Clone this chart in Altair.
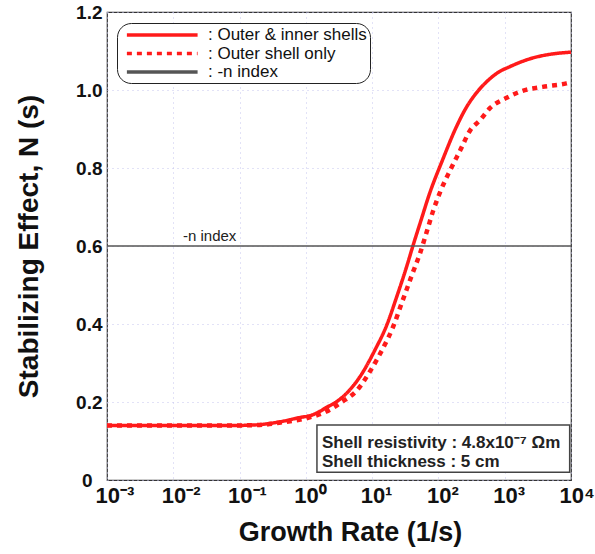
import altair as alt
import pandas as pd

# ---- data ----
series_names = ["Outer & inner shells", "Outer shell only", "-n index"]
series_widths = [3.5, 4.5, 1.5]

solid_rate = [0.001, 0.01, 0.1, 0.2, 0.4, 0.8, 1.26, 2.0, 3.6, 6.5, 11, 16.6, 23.4, 33,
              41.7, 53.7, 74, 115, 186, 263, 372, 525, 794, 1200, 2630, 5010, 10000]
solid_n = [0.140, 0.140, 0.140, 0.142, 0.149, 0.160, 0.167, 0.185, 0.213, 0.264, 0.333,
           0.397, 0.469, 0.546, 0.603, 0.662, 0.736, 0.820, 0.905, 0.955, 0.992, 1.020,
           1.045, 1.060, 1.082, 1.092, 1.097]

dot_rate = [0.001, 0.1, 0.2, 0.4, 1.0, 2.0, 3.5, 5.9, 10.2, 14.8, 20.4, 28.8, 40.7, 52.5,
            67.6, 83.2, 107, 151, 214, 302, 427, 603, 1070, 1860, 3720, 8510, 10000]
dot_n = [0.140, 0.140, 0.141, 0.147, 0.158, 0.175, 0.200, 0.230, 0.290, 0.340, 0.390,
         0.460, 0.530, 0.580, 0.640, 0.690, 0.740, 0.795, 0.846, 0.897, 0.923, 0.954,
         0.980, 0.998, 1.008, 1.017, 1.020]

index_rate = [0.001, 10000]
index_n = [0.6, 0.6]

x_tick_values = [0.001, 0.01, 0.1, 1, 10, 100, 1000, 10000]
x_tick_labels = ["10⁻³", "10⁻²", "10⁻¹", "10⁰", "10¹", "10²", "10³", "10⁴"]
y_tick_values = [0, 0.2, 0.4, 0.6, 0.8, 1.0, 1.2]

index_label = ["-n index"]
index_label_x = [0.014]
index_label_y = [0.613]

box_x = [1.47]
box_x2 = [9550]
box_y = [0.141]
box_y2 = [0.020]
box_lines = ["Shell resistivity : 4.8x10⁻⁷ Ωm", "Shell thickness : 5 cm"]
box_text_x = [1.75, 1.75]
box_text_y = [0.082, 0.033]

FONT = "Liberation Sans"

rows = []
for r, n in zip(solid_rate, solid_n):
    rows.append({"rate": r, "N": n, "series": series_names[0], "sw": series_widths[0]})
for r, n in zip(dot_rate, dot_n):
    rows.append({"rate": r, "N": n, "series": series_names[1], "sw": series_widths[1]})
for r, n in zip(index_rate, index_n):
    rows.append({"rate": r, "N": n, "series": series_names[2], "sw": series_widths[2]})
df = pd.DataFrame(rows)

label_expr = "[" + ",".join("'" + s + "'" for s in x_tick_labels) + "][round(log(datum.value)/LN10)+3]"

xscale = alt.Scale(type="log", domain=[0.001, 10000], nice=False)
yscale = alt.Scale(domain=[0, 1.2], nice=False)

xaxis = alt.Axis(values=x_tick_values, labelExpr=label_expr, title="Growth Rate (1/s)",
                 labelFont=FONT, labelFontSize=22, labelFontWeight="bold", labelColor="#111",
                 labelAlign="left", labelOffset=-12,
                 titleFont=FONT, titleFontSize=27, titleFontWeight="bold", titleColor="#111",
                 titleX=243, labelPadding=5, titlePadding=13, ticks=False, domain=False,
                 grid=True, gridColor="#c4c4ee", gridDash=[1, 4], gridWidth=1,
                 labelFlush=False, labelOverlap=False)
yaxis = alt.Axis(values=y_tick_values, labelExpr="datum.value == 0 ? '0' : format(datum.value, '.1f')",
                 title="Stabilizing Effect, N (s)",
                 labelFont=FONT, labelFontSize=19, labelFontWeight="bold", labelColor="#111",
                 titleFont=FONT, titleFontSize=28, titleFontWeight="bold", titleColor="#111",
                 labelPadding={"condition": {"test": "datum.value == 0", "value": 15}, "value": 5},
                 titlePadding=32, ticks=False, domain=False,
                 grid=True, gridColor="#c4c4ee", gridDash=[1, 4], gridWidth=1,
                 labelFlush=False, labelOverlap=False)

legend_kw = dict(title=None, labelExpr="': ' + datum.label", orient="none",
                 legendX=10, legendY=11, padding=3, rowPadding=1.5,
                 cornerRadius=14, strokeColor="#222", fillColor="white",
                 labelFont=FONT, labelFontSize=17, labelColor="#111", labelOffset=70,
                 labelLimit=300,
                 symbolType="M-0.3,0H9.7", symbolSize=200, symbolStrokeWidth=3.5)

lines = alt.Chart(df).mark_line(interpolate="monotone").encode(
    x=alt.X("rate:Q", scale=xscale, axis=xaxis),
    y=alt.Y("N:Q", scale=yscale, axis=yaxis),
    color=alt.Color("series:N", sort=series_names,
                    scale=alt.Scale(domain=series_names, range=["#ff1a1a", "#ff1a1a", "#555555"]),
                    legend=alt.Legend(**legend_kw)),
    strokeDash=alt.StrokeDash("series:N", sort=series_names,
                              scale=alt.Scale(domain=series_names, range=[[1, 0], [5, 5], [1, 0]]),
                              legend=alt.Legend(**legend_kw)),
    strokeWidth=alt.StrokeWidth("sw:Q", scale=None),
)

idx_df = pd.DataFrame({"label": index_label, "x": index_label_x, "y": index_label_y})
idx_text = alt.Chart(idx_df).mark_text(font=FONT, fontSize=15, align="left", baseline="alphabetic",
                                       color="#222").encode(
    x=alt.X("x:Q", scale=xscale), y=alt.Y("y:Q", scale=yscale), text="label:N")

box_df = pd.DataFrame({"x": box_x, "x2": box_x2, "y": box_y, "y2": box_y2})
box = alt.Chart(box_df).mark_rect(fill="white", stroke="#444", strokeWidth=1.5).encode(
    x=alt.X("x:Q", scale=xscale), x2="x2:Q", y=alt.Y("y:Q", scale=yscale), y2="y2:Q")

bt_df = pd.DataFrame({"t": box_lines, "x": box_text_x, "y": box_text_y})
box_text = alt.Chart(bt_df).mark_text(font=FONT, fontSize=17, fontWeight="bold", align="left",
                                      baseline="alphabetic", color="#222").encode(
    x=alt.X("x:Q", scale=xscale), y=alt.Y("y:Q", scale=yscale), text="t:N")

chart = alt.layer(lines, idx_text, box, box_text).properties(
    width=464, height=468, autosize="none", background="white",
    padding={"left": 107, "top": 12, "right": 24, "bottom": 74},
).configure_view(stroke="#333", strokeWidth=1.2)

chart.save("out.html", embed_options={"renderer": "svg", "actions": False})
